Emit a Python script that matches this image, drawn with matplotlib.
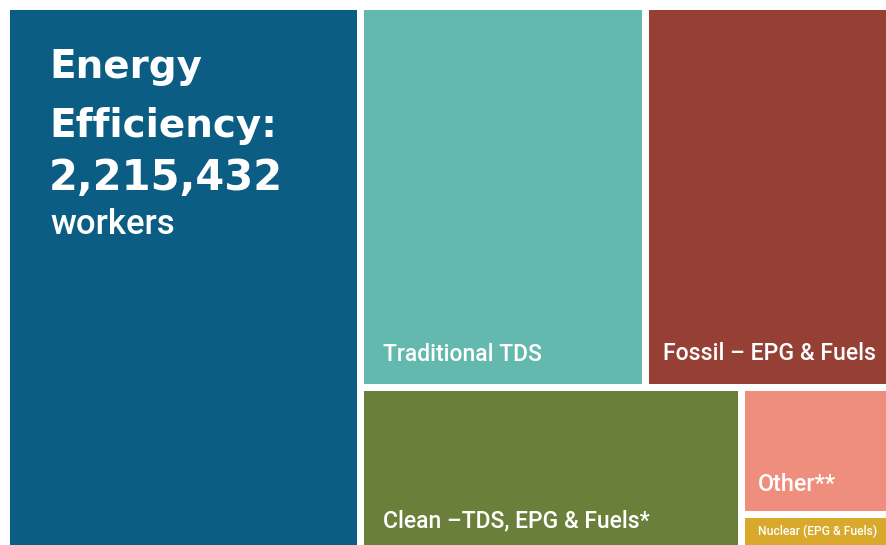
"""
Treemap of energy workers by sector, Energy Efficiency highlighted.
"""

import matplotlib.pyplot as plt
from matplotlib.patches import Rectangle

sectors = ["Energy Efficiency", "Traditional TDS", "Fossil – EPG & Fuels",
           "Clean –TDS, EPG & Fuels*", "Other**", "Nuclear (EPG & Fuels)"]
workers = [2215432, 1250000, 1078000, 710000, 218000, 59000]
colors = ["#0B5D84", "#64B9AE", "#963F34", "#6A803A", "#EF8E7C", "#D9A92B"]

# label padding (px from left, px above bottom) and font size in pt
label_pad = [None, (19, 23), (14, 24), (19, 18), (13, 20), (13, None)]
label_size = [None, 16.5, 16.6, 16.5, 16.8, 8.7]

GAP = 7


def split(box, frac, horizontal):
    x, y, w, h = box
    if horizontal:
        return (x, y, w * frac, h), (x + w * frac, y, w * (1 - frac), h)
    return (x, y, w, h * frac), (x, y + h * frac, w, h * (1 - frac))


ee, trad, fossil, clean, other, nuclear = workers
region = (6.5, 6.5, 884, 542)
b_ee, rest = split(region, ee / sum(workers), True)
top, bottom = split(rest, (trad + fossil) / sum(workers[1:]), False)
b_trad, b_fossil = split(top, trad / (trad + fossil), True)
b_clean, small = split(bottom, clean / (clean + other + nuclear), True)
b_other, b_nuc = split(small, other / (other + nuclear), False)
boxes = [b_ee, b_trad, b_fossil, b_clean, b_other, b_nuc]

fig = plt.figure(figsize=(8.87, 5.45), dpi=100)
ax = fig.add_axes([0, 0, 1, 1])
ax.set_xlim(0, 887)
ax.set_ylim(545, 0)
ax.axis("off")

for i, (x, y, w, h) in enumerate(boxes):
    x0, y0 = x + GAP / 2, y + GAP / 2
    w0, h0 = w - GAP, h - GAP
    ax.add_patch(Rectangle((x0, y0), w0, h0, facecolor=colors[i], edgecolor="none"))
    if label_pad[i] is None:
        continue
    px, py = label_pad[i]
    if py is None:
        ax.text(x0 + px, y0 + h0 / 2, sectors[i], color="white", fontsize=label_size[i],
                family="Roboto", weight="medium", va="center", ha="left")
    else:
        ax.text(x0 + px, y0 + h0 - py, sectors[i], color="white", fontsize=label_size[i],
                family="Roboto", weight="medium", va="baseline", ha="left")

# headline block in the big box
x0 = b_ee[0] + GAP / 2 + 39
ax.text(x0, 77.7, "Energy", color="white", fontsize=28, weight="bold",
        family="DejaVu Sans", va="baseline")
ax.text(x0, 136.7, "Efficiency:", color="white", fontsize=28, weight="bold",
        family="DejaVu Sans", va="baseline")
ax.text(x0, 190, f"{ee:,}", color="white", fontsize=30, weight="bold",
        family="DejaVu Sans", va="baseline")
ax.text(x0 + 1, 234, "workers", color="white", fontsize=25, weight="medium",
        family="Roboto", va="baseline")

fig.savefig("out.png", dpi=100)
